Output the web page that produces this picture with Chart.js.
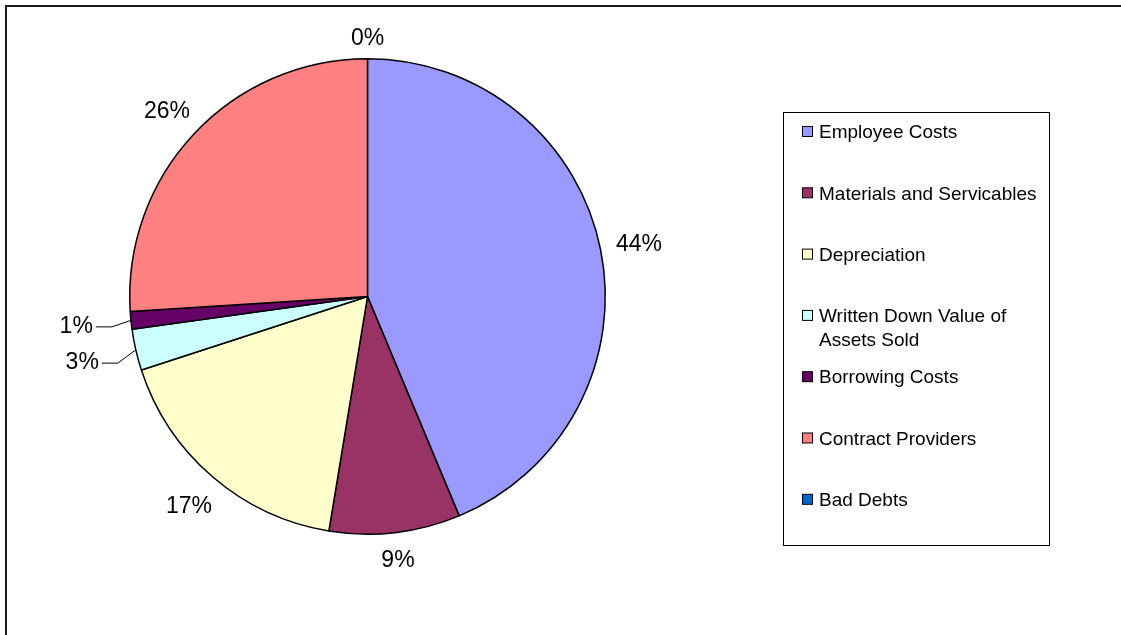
<!DOCTYPE html>
<html lang="en">
<head>
  <meta charset="UTF-8">
  <title>Expenses</title>
  <script src="https://cdn.jsdelivr.net/npm/chart.js"></script>
  <style>
    body { margin: 0; background: #fff; }
  </style>
</head>
<body>
  <canvas id="expenseChart" width="1121" height="635"></canvas>
  <script>
    const categories = ['Employee Costs', 'Materials and Servicables', 'Depreciation',
      'Written Down Value of Assets Sold', 'Borrowing Costs', 'Contract Providers', 'Bad Debts'];
    const shares = [43.7, 8.9, 17.4, 2.8, 1.2, 26.0, 0];
    const sliceColors = ['#9999ff', '#993366', '#ffffcc', '#ccffff', '#660066', '#ff8080', '#0066cc'];

    const FONT = '"Liberation Sans", Arial, sans-serif';

    // outer frame of the chart
    const framePlugin = {
      id: 'frame',
      beforeDraw(chart) {
        const ctx = chart.ctx;
        ctx.save();
        ctx.fillStyle = '#fff';
        ctx.fillRect(0, 0, chart.width, chart.height);
        ctx.strokeStyle = '#1a1a1a';
        ctx.lineWidth = 2;
        ctx.strokeRect(6, 6, chart.width + 20, chart.height + 20);
        ctx.restore();
      }
    };

    // percentage labels outside each slice, leader lines for the thin ones
    const pctLabels = {
      id: 'pctLabels',
      afterDatasetsDraw(chart) {
        const ctx = chart.ctx;
        const data = chart.data.datasets[0].data;
        const total = data.reduce((a, b) => a + b, 0);
        const arcs = chart.getDatasetMeta(0).data;
        ctx.save();
        ctx.font = '23px ' + FONT;
        ctx.fillStyle = '#000';
        ctx.strokeStyle = '#000';
        ctx.lineWidth = 1;
        ctx.textAlign = 'center';
        ctx.textBaseline = 'middle';
        arcs.forEach((arc, i) => {
          const pct = data[i] / total * 100;
          const text = Math.round(pct) + '%';
          const mid = (arc.startAngle + arc.endAngle) / 2;
          const dx = Math.cos(mid), dy = Math.sin(mid);
          const r = arc.outerRadius;
          const w = ctx.measureText(text).width;
          const small = pct > 0 && pct < 5;
          let dist;
          if (small) {
            dist = r + 55;
          } else {
            dist = r + 15 + Math.abs(dx) * w / 2 + Math.abs(dy) * 8;
          }
          const lx = arc.x + dx * dist;
          const ly = arc.y + dy * dist + (small ? 1 : 3);
          ctx.fillText(text, lx, ly);
          if (small) {
            const sx = arc.x + dx * r, sy = arc.y + dy * r;
            const ex = lx + w / 2 + 3, ey = ly;
            ctx.beginPath();
            ctx.moveTo(sx, sy);
            if (sx - ex > 16) ctx.lineTo(ex + 16, ey);
            ctx.lineTo(ex, ey);
            ctx.stroke();
          }
        });
        ctx.restore();
      }
    };

    // boxed legend on the right, long names wrap onto a second line
    const boxLegend = {
      id: 'boxLegend',
      afterDraw(chart) {
        const ctx = chart.ctx;
        const box = { left: 783.5, top: 112.5, right: 1049.5, bottom: 545.5 };
        const colors = chart.data.datasets[0].backgroundColor;
        ctx.save();
        ctx.strokeStyle = '#000';
        ctx.lineWidth = 1;
        ctx.strokeRect(box.left, box.top, box.right - box.left, box.bottom - box.top);
        ctx.font = '19px ' + FONT;
        ctx.textBaseline = 'middle';
        ctx.textAlign = 'left';
        const textX = 819;
        const maxW = box.right - textX - 6;
        chart.data.labels.forEach((label, i) => {
          const y = 132 + i * 61.3;
          ctx.fillStyle = colors[i];
          ctx.fillRect(802.5, y - 5.5, 10, 10);
          ctx.strokeRect(802.5, y - 5.5, 10, 10);
          // simple word wrap
          const words = label.split(' ');
          const lines = [];
          let line = '';
          words.forEach(word => {
            const test = line ? line + ' ' + word : word;
            if (ctx.measureText(test).width > maxW && line) {
              lines.push(line);
              line = word;
            } else {
              line = test;
            }
          });
          lines.push(line);
          ctx.fillStyle = '#000';
          lines.forEach((l, k) => ctx.fillText(l, textX, y + 1 + k * 24));
        });
        ctx.restore();
      }
    };

    new Chart(document.getElementById('expenseChart'), {
      type: 'pie',
      data: {
        labels: categories,
        datasets: [{
          data: shares,
          backgroundColor: sliceColors,
          borderColor: '#000',
          borderWidth: 1.5
        }]
      },
      options: {
        responsive: false,
        animation: false,
        events: [],
        layout: {
          padding: { left: 129, top: 58, right: 515, bottom: 100 }
        },
        plugins: {
          legend: { display: false },
          tooltip: { enabled: false }
        }
      },
      plugins: [framePlugin, pctLabels, boxLegend]
    });
  </script>
</body>
</html>
